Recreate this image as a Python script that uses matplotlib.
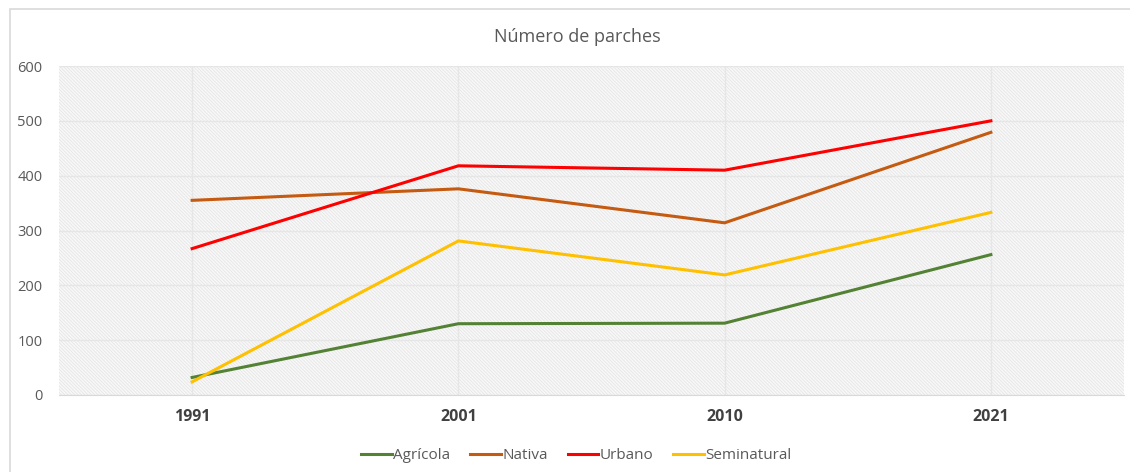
import matplotlib.pyplot as plt
from matplotlib.patches import Rectangle

years = ["1991", "2001", "2010", "2021"]
agricola = [32, 130, 131, 256]
nativa = [355, 376, 314, 479]
urbano = [267, 418, 410, 500]
seminatural = [24, 281, 219, 333]

series = [
    ("Agrícola", agricola, "#548235"),
    ("Nativa", nativa, "#C55A11"),
    ("Urbano", urbano, "#FF0000"),
    ("Seminatural", seminatural, "#FFC000"),
]

plt.rcParams["font.family"] = ["Open Sans", "DejaVu Sans"]
plt.rcParams["hatch.linewidth"] = 0.5

fig = plt.figure(figsize=(11.3, 4.72), dpi=100)
ax = fig.add_axes([59 / 1130, 77 / 472, 1065 / 1130, 329 / 472])

# chart border like the spreadsheet frame
fig.patches.append(Rectangle((10 / 1130, -0.1), 1.2, 463 / 472 + 0.1, transform=fig.transFigure,
                             fill=False, edgecolor="#D9D9D9", linewidth=1.2))

ax.set_facecolor("#F8F8F8")
ax.add_patch(Rectangle((0, 0), 1, 1, transform=ax.transAxes, facecolor="none",
                       edgecolor="#E2E2E2", hatch="\\" * 10, linewidth=0, zorder=0))

x = list(range(len(years)))
for name, vals, col in series:
    ax.plot(x, vals, color=col, linewidth=2.2, label=name, zorder=3)

ax.set_xlim(-0.5, len(years) - 0.5)
ax.set_ylim(0, 600)
ax.set_yticks(range(0, 601, 100))
ax.set_xticks(x)
ax.set_xticklabels(years, fontweight="bold", fontsize=11.5, color="#404040")
ax.tick_params(axis="y", labelsize=10.5, colors="#595959", length=0, pad=12)
ax.tick_params(axis="x", length=0, pad=10)
ax.grid(True, color="#E6E6E6", linewidth=1, zorder=1)
ax.set_axisbelow(True)
for s in ["top", "right", "left"]:
    ax.spines[s].set_visible(False)
ax.spines["bottom"].set_color("#D9D9D9")

fig.text(0.511, 0.922, "Número de parches", ha="center", va="center",
         fontsize=13, color="#595959")

fig.legend(loc="center", bbox_to_anchor=(0.51, 0.034), ncol=4, frameon=False,
           fontsize=11, handlelength=2.0, handletextpad=0.1, columnspacing=1.3,
           labelcolor="#595959")

fig.savefig("out.png", dpi=100, facecolor="white")
